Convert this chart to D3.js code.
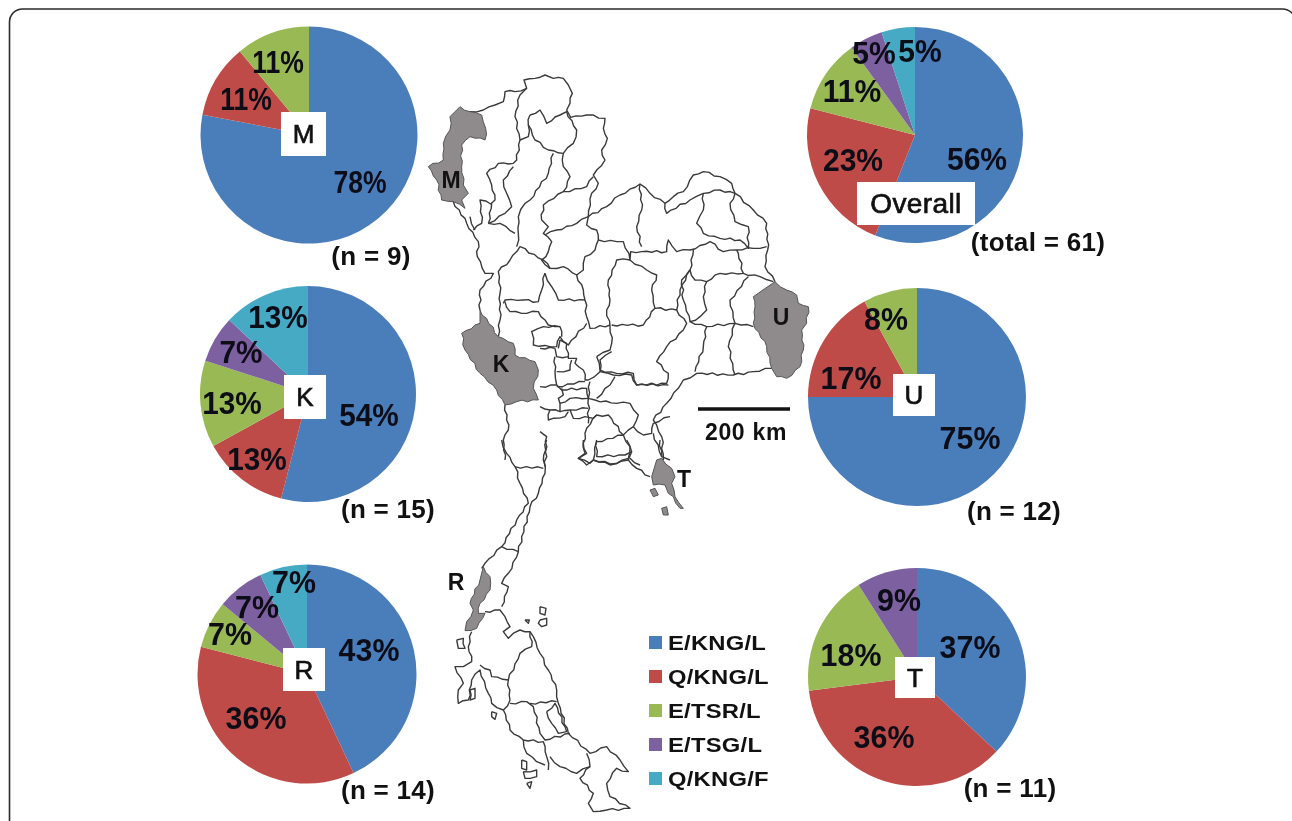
<!DOCTYPE html>
<html>
<head>
<meta charset="utf-8">
<script src="https://cdn.jsdelivr.net/npm/d3@7"></script>
<style>
  html, body { margin: 0; padding: 0; background: #fff; overflow: hidden; }
  svg { display: block; filter: blur(0.45px); font-family: "Liberation Sans", Arial, sans-serif; }
</style>
</head>
<body>
<div id="chart-container"></div>
<script>
// Genotype groups
const categories = ["E/KNG/L", "Q/KNG/L", "E/TSR/L", "E/TSG/L", "Q/KNG/F"];
const sliceColors = ["#4a7ebb", "#be4b48", "#98b954", "#7d60a0", "#46aac5"];

// Percent per province, same order as categories (0 = group not found)
const valuesM = [78, 11, 11, 0, 0];
const valuesK = [54, 13, 13, 7, 13];
const valuesR = [43, 36, 7, 7, 7];
const valuesOverall = [56, 23, 11, 5, 5];
const valuesU = [75, 17, 8, 0, 0];
const valuesT = [37, 36, 18, 9, 0];

// Pie layout (squeeze = horizontal squeeze of the percent labels)
const pies = [
    { name: "M", values: valuesM, cx: 309, cy: 135, r: 108.5, box: [281, 112, 45, 44], size: 26, squeeze: 0.83,
      note: "(n = 9)", nx: 371, ny: 256,
      labels: [[51, 47], [-63, -36], [-31, -73]] },
    { name: "K", values: valuesK, cx: 308, cy: 394, r: 108, box: [284, 375, 42, 44], size: 26, squeeze: 0.93,
      note: "(n = 15)", nx: 388, ny: 509,
      labels: [[61, 21], [-51, 65], [-76, 9], [-67, -42], [-30, -77]] },
    { name: "R", values: valuesR, cx: 307, cy: 674, r: 109.5, box: [283, 648, 42, 43], size: 26, squeeze: 0.95,
      note: "(n = 14)", nx: 388, ny: 790,
      labels: [[62, -24], [-51, 44], [-77, -40], [-50, -67], [-13, -92]] },
    { name: "Overall", values: valuesOverall, cx: 915, cy: 135, r: 108, box: [857, 182, 118, 43], size: 28, squeeze: 0.94,
      note: "(total = 61)", nx: 1038, ny: 242,
      labels: [[62, 24], [-62, 25], [-63, -44], [-41, -82], [5, -84]] },
    { name: "U", values: valuesU, cx: 917, cy: 397, r: 109, box: [893, 374, 42, 42], size: 26, squeeze: 0.95,
      note: "(n = 12)", nx: 1014, ny: 511,
      labels: [[53, 41], [-66, -19], [-31, -78]] },
    { name: "T", values: valuesT, cx: 917, cy: 677, r: 109, box: [895, 657, 40, 41], size: 26, squeeze: 0.95,
      note: "(n = 11)", nx: 1010, ny: 788,
      labels: [[53, -30], [-33, 60], [-66, -22], [-18, -77]] }
];

// Map. North part: px = 420 + x/3, py = 60 + y/3
const northBorders = [
    // outer border
    [[150,155],[190,150],[225,135],[250,125],[255,95],[285,95],[320,85],[312,60],[345,55],[375,45],[400,55],[430,55],[445,75],[457,100],[450,130],[440,150],[452,172],[500,165],[555,175],[550,205],[562,235],[545,270],[555,300],[520,345],[535,370],[515,400],[505,470],[560,440],[600,405],[660,372],[690,400],[735,430],[760,410],[790,395],[820,345],[850,335],[900,350],[935,370],[945,400],[1000,450],[1040,490],[1043,570],[1035,620],[1065,665]],
    [[1055,925],[1000,935],[940,945],[830,940],[790,960],[775,985],[740,1030],[700,1080],[725,1130],[730,1200]],
    [[100,425],[140,490],[175,545],[172,590],[195,640],[220,640],[180,690],[180,750]],
    [[255,1035],[265,1110],[250,1140],[255,1200]],
    // interior
    [[320,85],[300,105],[285,170],[300,240],[290,300],[280,310],[235,310],[200,340],[215,375],[225,420],[212,432],[180,420],[185,490],[160,510]],
    [[150,470],[165,510]],
    [[205,490],[215,430]],
    [[205,490],[255,460],[275,440],[260,400],[250,360],[280,320]],
    [[330,165],[325,195],[345,240],[385,270],[430,280],[460,250],[470,210],[440,155],[420,165],[380,190],[360,150],[330,165]],
    [[300,240],[325,230],[325,195]],
    [[400,280],[385,340],[330,420],[315,430],[295,470],[295,520],[290,560]],
    [[430,280],[430,320],[450,350],[430,395],[370,435],[365,480],[385,500],[370,520],[395,545],[385,575],[365,600],[390,625]],
    [[520,350],[500,380],[430,395]],
    [[505,470],[470,490],[410,510],[375,525]],
    [[505,470],[500,495],[530,510],[535,540],[525,570],[495,590],[490,630],[470,645],[430,620],[390,625],[370,600],[300,560],[270,600],[235,635],[240,700],[240,780],[235,830]],
    [[205,490],[240,490],[285,520]],
    [[375,640],[365,690],[355,725],[310,720],[255,720],[250,730]],
    [[375,640],[395,680],[415,720],[495,720]],
    [[470,645],[490,690],[495,720],[500,770],[510,805],[570,795]],
    [[255,725],[270,755],[320,760],[355,755],[385,795],[420,800],[425,830]],
    [[420,800],[370,800],[335,815],[340,855],[410,860],[420,830],[445,855],[500,790]],
    [[535,540],[590,545],[610,545],[630,600],[632,575],[665,575],[740,575],[745,540],[770,575],[810,570],[870,545],[910,575],[950,570],[1000,565],[1040,560]],
    [[630,600],[590,600],[565,660],[570,720],[560,750],[570,800],[575,850],[570,870],[530,890]],
    [[630,600],[680,630],[710,645],[695,690],[705,745],[770,750],[780,690],[810,630],[820,570]],
    [[705,745],[670,795],[575,795]],
    [[770,750],[800,790],[790,810],[740,860],[710,905],[745,940],[740,970],[650,975],[640,940],[590,940],[540,930],[530,890]],
    [[810,785],[860,800],[945,790],[1000,800]],
    [[860,800],[850,860],[825,935]],
    [[945,790],[925,860],[945,945]],
    [[810,630],[825,660],[860,665],[900,640],[970,640],[955,580],[950,570]],
    [[970,640],[1020,650],[1060,665]],
    [[985,650],[930,720],[945,790]],
    [[860,665],[850,710],[860,750],[840,770],[810,785],[790,720],[785,660],[810,630]],
    [[660,372],[665,450],[650,500],[665,560]],
    [[735,430],[740,460],[810,420],[850,400],[900,390],[945,400]],
    [[850,400],[850,450],[830,490],[850,520],[900,535],[960,540],[985,565],[985,500],[945,485],[930,430],[945,400]]
];

// Around the head of the gulf: px = 540 + x/3, py = 300 + y/3
const centralBorders = [
    [[60,120],[80,130],[85,175],[110,175],[105,190],[130,210],[135,240],[145,240],[180,215],[220,225],[275,225],[290,255],[385,255]],
    [[45,145],[50,170],[85,170]],
    [[45,145],[0,145]],
    [[60,120],[55,145]],
    [[45,170],[45,215],[50,255]],
    [[50,215],[90,210],[95,180]],
    [[50,260],[135,245]],
    [[0,260],[50,255],[65,270],[140,265],[145,295]],
    [[150,245],[145,295],[145,370]],
    [[65,265],[70,285],[55,295],[60,310],[90,295],[145,295]],
    [[60,310],[60,335],[30,330],[0,320]],
    [[145,295],[165,300],[230,310],[270,310],[295,345],[280,380],[250,405],[205,345],[170,345],[140,385],[130,430],[140,460],[115,475],[150,490],[160,480],[210,495],[265,475],[270,440],[250,405],[170,425],[160,480]],
    [[145,325],[90,330],[60,335]],
    [[90,330],[100,355],[135,350],[160,355],[170,345]],
    [[30,330],[25,360],[75,350],[85,335]],
    [[180,215],[180,180],[215,155]],
    [[225,230],[210,255],[170,295]],
    [[280,380],[310,405],[335,400],[340,370],[390,350]],
    [[270,475],[300,495]],
    [[340,400],[365,470],[390,480]],
    [[0,395],[20,410],[15,500]]
];

// South part: px = 430 + x/3, py = 440 + y/3
const southBorders = [
    [[215,0],[230,40],[255,80],[270,130],[295,190],[260,240],[215,320],[165,370],[155,385]],
    [[350,0],[340,60],[345,100],[325,160],[300,200],[265,335],[235,400],[215,430],[235,440],[215,500]],
    [[255,80],[340,85]],
    [[215,320],[265,335]],
    [[165,515],[210,510],[225,530],[240,560],[220,575],[235,595],[270,570],[300,575],[310,590],[330,640],[355,690],[380,750],[385,790],[415,880],[480,940],[530,920],[570,960],[595,995],[560,985],[530,1030],[540,1070],[600,1105],[530,1110],[490,1115],[475,1090],[490,1060],[450,1015],[480,980],[470,940]],
    [[125,575],[115,620],[125,665],[100,680],[75,680],[100,730],[85,750],[85,790],[115,780],[125,720],[150,690],[175,760],[185,790],[220,810],[240,870],[280,900],[340,905],[350,950],[355,990]],
    [[150,675],[180,690],[185,710],[235,720],[270,640],[305,620],[300,575]],
    [[235,720],[240,780],[220,810]],
    [[240,790],[290,785],[310,800],[330,880],[345,900],[420,880]],
    [[300,790],[380,785]],
    [[360,950],[390,980],[440,1000],[480,980]],
    [[280,900],[290,940],[320,965],[345,975]],
    [[350,815],[375,790],[410,875],[385,880],[365,850],[350,815]],
    [[330,500],[348,505],[345,525],[330,520],[330,500]],
    [[330,540],[350,535],[350,555],[335,560],[325,550],[330,540]],
    [[285,540],[298,540],[295,550],[285,540]],
    [[120,750],[135,745],[135,775],[120,780],[120,750]],
    [[185,815],[200,820],[195,838],[185,830],[185,815]],
    [[275,960],[290,965],[290,990],[275,985],[275,960]],
    [[280,995],[320,990],[320,1010],[285,1015],[280,995]],
    [[290,1030],[305,1025],[300,1045],[290,1030]],
    [[80,600],[100,595],[105,625],[85,625],[80,600]],
    [[460,0],[465,40],[445,55],[470,75],[490,60],[540,72],[595,60],[620,85],[660,110]],
    [[500,0],[500,50],[585,45],[605,35],[590,0]],
    [[595,60],[605,35]],
    [[690,0],[695,50]]
];

// Sampled provinces, same coordinate systems as above
const northShaded = [
    [[120,140],[150,155],[185,165],[197,205],[195,240],[150,230],[125,255],[125,320],[130,375],[145,400],[125,420],[135,445],[100,425],[65,420],[50,360],[25,320],[70,300],[70,250],[90,210],[90,170]],
    [[180,750],[235,830],[280,850],[285,885],[345,905],[355,930],[340,985],[355,1020],[290,1025],[255,1035],[230,990],[180,940],[135,870],[125,820],[180,790]],
    [[1065,665],[1100,690],[1130,705],[1135,730],[1165,740],[1160,790],[1145,810],[1150,870],[1140,920],[1100,955],[1070,950],[1055,925],[1040,860],[1000,790],[1005,740],[1000,710]]
];
const southShaded = [
    [[160,380],[180,410],[180,450],[150,490],[145,520],[165,520],[140,565],[105,572],[110,545],[130,510],[120,490],[150,420]],
    [[680,60],[695,55],[725,85],[735,110],[725,130],[735,170],[760,205],[750,205],[730,170],[715,160],[705,135],[670,135],[665,110]],
    [[660,150],[675,145],[685,165],[670,170]],
    [[695,205],[710,200],[715,225],[700,225]]
];

const mapLabels = ["M", "K", "U", "R", "T"];
const mapLabelX = [451, 501, 781, 456, 684];
const mapLabelY = [180, 364, 317, 582, 479];

const width = 1292;
const height = 821;

const svg = d3.select("#chart-container")
    .append("svg")
    .attr("width", width)
    .attr("height", height);

// Frame: right and bottom sides run off the picture
svg.append("rect")
    .attr("x", 9.5)
    .attr("y", 9)
    .attr("width", 1286)
    .attr("height", 860)
    .attr("rx", 13)
    .attr("fill", "#fff")
    .attr("stroke", "#2b2b2b")
    .attr("stroke-width", 1.6);

// Borders in the figure are hand-drawn looking, break long segments into small steps
const wobble = [1.1, -0.7, 0.4, -1.2, 0.9, -0.4, 0.6, -1];
function roughen(points) {
    const out = [];
    let k = 0;
    points.forEach((p, i) => {
        out.push(p);
        if (i === points.length - 1) return;
        const q = points[i + 1];
        const len = Math.hypot(q[0] - p[0], q[1] - p[1]);
        const steps = Math.floor(len / 5);
        for (let s = 1; s < steps; s++) {
            const t = s / steps;
            const w = wobble[k++ % wobble.length];
            out.push([
                p[0] + (q[0] - p[0]) * t - (q[1] - p[1]) / len * w,
                p[1] + (q[1] - p[1]) * t + (q[0] - p[0]) / len * w
            ]);
        }
    });
    return out;
}
const toPixels = (list, ox, oy) => list.map(line => roughen(line.map(d => [ox + d[0] / 3, oy + d[1] / 3])));

// Map
const mapLine = d3.line();
const mapGroup = svg.append("g");

const borderLines = [
    ...toPixels(northBorders, 420, 60),
    ...toPixels(centralBorders, 540, 300),
    ...toPixels(southBorders, 430, 440)
];
const shadedAreas = [
    ...toPixels(northShaded, 420, 60),
    ...toPixels(southShaded, 430, 440)
];

mapGroup.selectAll("path.border")
    .data(borderLines)
    .join("path")
    .attr("class", "border")
    .attr("d", mapLine)
    .attr("fill", "none")
    .attr("stroke", "#3a3a3a")
    .attr("stroke-width", 1.4)
    .attr("stroke-linejoin", "round");

mapGroup.selectAll("path.shaded")
    .data(shadedAreas)
    .join("path")
    .attr("class", "shaded")
    .attr("d", d => mapLine(d) + "Z")
    .attr("fill", "#8f8b8d")
    .attr("stroke", "#555")
    .attr("stroke-width", 1);

svg.selectAll("text.maplabel")
    .data(mapLabels)
    .join("text")
    .attr("class", "maplabel")
    .attr("x", (d, i) => mapLabelX[i])
    .attr("y", (d, i) => mapLabelY[i])
    .attr("text-anchor", "middle")
    .attr("dominant-baseline", "central")
    .style("font-size", "23px")
    .style("font-weight", "bold")
    .attr("fill", "#111")
    .text(d => d);

// Scale bar
svg.append("line")
    .attr("x1", 698).attr("x2", 790)
    .attr("y1", 409).attr("y2", 409)
    .attr("stroke", "#111")
    .attr("stroke-width", 3.5);
svg.append("text")
    .attr("x", 746)
    .attr("y", 432)
    .attr("text-anchor", "middle")
    .attr("dominant-baseline", "central")
    .style("font-size", "23px")
    .style("font-weight", "bold")
    .style("letter-spacing", "0.7px")
    .attr("fill", "#111")
    .text("200 km");

// Pies
const color = d3.scaleOrdinal().domain(categories).range(sliceColors);
const pieGen = d3.pie().sort(null).value(d => d.value);

pies.forEach(p => {
    const g = svg.append("g").attr("transform", `translate(${p.cx},${p.cy})`);
    const arc = d3.arc().innerRadius(0).outerRadius(p.r);
    const slices = categories
        .map((c, i) => ({ category: c, value: p.values[i] }))
        .filter(d => d.value > 0);

    g.selectAll("path")
        .data(pieGen(slices))
        .join("path")
        .attr("d", arc)
        .attr("fill", d => color(d.data.category));

    g.selectAll("text.pct")
        .data(slices)
        .join("text")
        .attr("class", "pct")
        .attr("transform", (d, i) => `translate(${p.labels[i][0]},${p.labels[i][1]}) scale(${p.squeeze},1)`)
        .attr("text-anchor", "middle")
        .attr("dominant-baseline", "central")
        .style("font-size", "32px")
        .style("font-weight", "bold")
        .attr("fill", "#0d0d18")
        .text(d => d.value + "%");

    svg.append("rect")
        .attr("x", p.box[0])
        .attr("y", p.box[1])
        .attr("width", p.box[2])
        .attr("height", p.box[3])
        .attr("fill", "#fff");
    svg.append("text")
        .attr("x", p.box[0] + p.box[2] / 2)
        .attr("y", p.box[1] + p.box[3] / 2)
        .attr("text-anchor", "middle")
        .attr("dominant-baseline", "central")
        .style("font-size", p.size + "px")
        .style("letter-spacing", p.name === "Overall" ? "0.4px" : "0")
        .attr("fill", "#111")
        .attr("stroke", "#111")
        .attr("stroke-width", 0.7)
        .text(p.name);
    svg.append("text")
        .attr("x", p.nx)
        .attr("y", p.ny)
        .attr("text-anchor", "middle")
        .attr("dominant-baseline", "central")
        .style("font-size", "26px")
        .style("font-weight", "bold")
        .style("letter-spacing", "0.3px")
        .attr("fill", "#111")
        .text(p.note);
});

// Legend
const legendY = d3.scalePoint().domain(categories).range([643, 779]);
const legend = svg.selectAll("g.legend")
    .data(categories)
    .join("g")
    .attr("class", "legend")
    .attr("transform", d => `translate(649,${legendY(d)})`);
legend.append("rect")
    .attr("y", -7)
    .attr("width", 13)
    .attr("height", 13)
    .attr("fill", d => color(d));
legend.append("text")
    .attr("transform", "translate(19,0) scale(1.19,1)")
    .attr("dominant-baseline", "central")
    .style("font-size", "20px")
    .style("font-weight", "bold")
    .style("letter-spacing", "0.2px")
    .attr("fill", "#111")
    .text(d => d);
</script>
</body>
</html>
